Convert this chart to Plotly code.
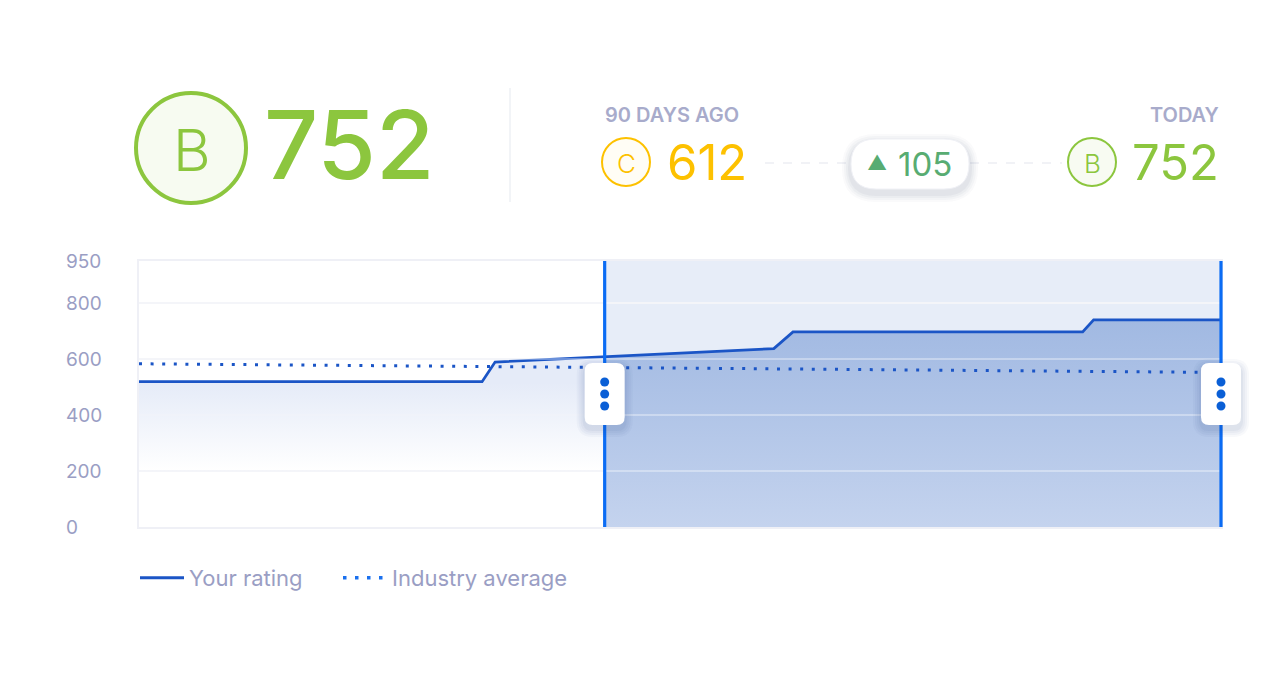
import numpy as np
import plotly.graph_objects as go

# ---------------- data ----------------
rating_days = [-158, -107.9, -106.0, -65.3, -62.5, -20.2, -18.6, 0]
rating_vals = [519, 519, 589, 637, 697, 697, 740, 740]

industry_days = [-158, -120, -90, -60, -30, 0]
industry_vals = [583, 575, 569, 563, 558, 552]

y_ticks = [0, 200, 400, 600, 800, 950]
y_tick_labels = ["0", "200", "400", "600", "800", "950"]

window_start, window_end = -90, 0

current_grade, current_score = "B", 752
past_grade, past_score = "C", 612
change_value = 105

# ---------------- layout geometry (reference pixels) ----------------
PAGE_OFF = 8                      # default body margin of the page
FIG_W, FIG_H = 1280 - PAGE_OFF, 690 - PAGE_OFF
L, R, T, B = 139, 1221, 261, 527
PW, PH = R - L, B - T
X_MIN, X_MAX = rating_days[0], window_end


def px(x):
    return (x - L) / PW


def py(y):
    return (B - y) / PH


def xdata_to_paper(v):
    return (v - X_MIN) / (X_MAX - X_MIN)


GREEN = "#8CC63E"
AMBER = "#FDC100"
UP_GREEN = "#58AC72"
LINE_BLUE = "#1B55C6"
BRIGHT_BLUE = "#0B6CF4"
MUTED = "#9A9EC4"
FONT = "Inter"

fig = go.Figure()

x_all = np.array(rating_days, dtype=float)
y_all = np.array(rating_vals, dtype=float)
y_at_start = float(np.interp(window_start, x_all, y_all))
left_mask = x_all < window_start
right_mask = x_all > window_start
left_x = list(x_all[left_mask]) + [window_start]
left_y = list(y_all[left_mask]) + [y_at_start]
right_x = [window_start] + list(x_all[right_mask])
right_y = [y_at_start] + list(y_all[right_mask])

fig.add_trace(go.Scatter(
    x=left_x, y=left_y, mode="lines", line=dict(width=0),
    fill="tozeroy",
    fillgradient=dict(type="vertical", start=0, stop=600,
                      colorscale=[[0, "rgba(229,235,248,0)"],
                                  [0.33, "rgba(229,235,248,0)"],
                                  [0.86, "rgba(229,235,248,1)"],
                                  [1, "rgba(229,235,248,1)"]]),
    showlegend=False, hoverinfo="skip"))

fig.add_trace(go.Scatter(
    x=right_x, y=right_y, mode="lines", line=dict(width=0),
    fill="tozeroy",
    fillgradient=dict(type="vertical", start=0, stop=740,
                      colorscale=[[0, "#C4D3EE"], [1, "#A1B9E2"]]),
    showlegend=False, hoverinfo="skip"))

fig.add_trace(go.Scatter(
    x=rating_days, y=rating_vals, mode="lines", name="Your rating",
    line=dict(color=LINE_BLUE, width=2.8), showlegend=False))

fig.add_trace(go.Scatter(
    x=industry_days, y=industry_vals, mode="lines", name="Industry average",
    line=dict(color=LINE_BLUE, width=3, dash="3px,8.6px"), showlegend=False))

# legend entries (styled like the reference legend), one legend each
fig.add_trace(go.Scatter(x=[None], y=[None], mode="lines", name="Your rating",
                         line=dict(color=LINE_BLUE, width=3), legend="legend"))
fig.add_trace(go.Scatter(x=[None], y=[None], mode="lines", name="Industry average",
                         line=dict(color="#1A70EE", width=3.5, dash="3.5px,8.5px"),
                         legend="legend2"))

shapes = []
shapes.append(dict(type="rect", xref="x", yref="y", x0=window_start, x1=window_end,
                   y0=0, y1=950, fillcolor="#E7EDF8", line=dict(width=0), layer="below"))
for v in y_ticks[1:-1]:
    shapes.append(dict(type="line", xref="paper", yref="y", x0=0, x1=1, y0=v, y1=v,
                       line=dict(color="rgba(255,255,255,0.35)", width=2), layer="above"))
for xv in (window_start, window_end):
    xp = xdata_to_paper(xv)
    shapes.append(dict(type="line", xref="paper", yref="paper", x0=xp, x1=xp, y0=0, y1=1,
                       line=dict(color=BRIGHT_BLUE, width=3.2), layer="above"))


def rrect(w, h, r, dy=0):
    x0, x1 = -w / 2, w / 2
    y0, y1 = -h / 2 + dy, h / 2 + dy
    return (f"M {x0 + r},{y0} L {x1 - r},{y0} Q {x1},{y0} {x1},{y0 + r} "
            f"L {x1},{y1 - r} Q {x1},{y1} {x1 - r},{y1} L {x0 + r},{y1} "
            f"Q {x0},{y1} {x0},{y1 - r} L {x0},{y0 + r} Q {x0},{y0} {x0 + r},{y0} Z")


for xv in (window_start, window_end):
    xp = xdata_to_paper(xv)
    for i, a in enumerate([0.03, 0.035, 0.04, 0.05]):
        g = 16 - i * 4
        shapes.append(dict(type="path", xref="paper", yref="paper", xsizemode="pixel",
                           ysizemode="pixel", xanchor=xp, yanchor=0.5,
                           path=rrect(40 + g, 62 + g, 8 + g / 2, dy=-4),
                           fillcolor=f"rgba(40,70,140,{a})", line=dict(width=0), layer="above"))
    shapes.append(dict(type="path", xref="paper", yref="paper", xsizemode="pixel",
                       ysizemode="pixel", xanchor=xp, yanchor=0.5,
                       path=rrect(40, 62, 8), fillcolor="white", line=dict(width=0),
                       layer="above"))
    for dy in (-12, 0, 12):
        shapes.append(dict(type="circle", xref="paper", yref="paper", xsizemode="pixel",
                           ysizemode="pixel", xanchor=xp, yanchor=0.5,
                           x0=-4.5, x1=4.5, y0=dy - 4.5, y1=dy + 4.5,
                           fillcolor="#0A5FD6", line=dict(width=0), layer="above"))


def circle(cx, cy, r, stroke, fill, width):
    return dict(type="circle", xref="paper", yref="paper",
                x0=px(cx - r), x1=px(cx + r), y0=py(cy + r), y1=py(cy - r),
                line=dict(color=stroke, width=width), fillcolor=fill, layer="above")


shapes.append(circle(191, 148, 55, GREEN, "#F7FBF1", 4))
shapes.append(dict(type="line", xref="paper", yref="paper", x0=px(510), x1=px(510),
                   y0=py(88), y1=py(202), line=dict(color="#EEF0F5", width=1.5)))
shapes.append(circle(626, 162, 24, AMBER, "#FFFDF5", 2))
shapes.append(circle(1092, 162, 24, GREEN, "#F8FBF2", 2))
for x0, x1 in ((765, 850), (970, 1062)):
    shapes.append(dict(type="line", xref="paper", yref="paper", x0=px(x0), x1=px(x1),
                       y0=py(163), y1=py(163),
                       line=dict(color="#E3E5ED", width=1.2, dash="dash")))
for i, a in enumerate([0.025, 0.03, 0.035, 0.045]):
    g = 18 - i * 4
    shapes.append(dict(type="path", xref="paper", yref="paper", xsizemode="pixel",
                       ysizemode="pixel", xanchor=px(910), yanchor=py(164),
                       path=rrect(118 + g, 50 + g, 25 + g / 2, dy=-4),
                       fillcolor=f"rgba(40,50,90,{a})", line=dict(width=0)))
shapes.append(dict(type="path", xref="paper", yref="paper", xsizemode="pixel",
                   ysizemode="pixel", xanchor=px(910), yanchor=py(164),
                   path=rrect(118, 50, 25), fillcolor="white",
                   line=dict(color="#F0F1F6", width=1)))

annotations = []


def ann(text, x, y, size, color, xanchor="center", weight=400, yanchor="middle"):
    annotations.append(dict(text=text, x=px(x), y=py(y), xref="paper", yref="paper",
                            showarrow=False, xanchor=xanchor, yanchor=yanchor,
                            font=dict(family=FONT, size=size, color=color, weight=weight)))


ann(current_grade, 192, 150, 58, GREEN, weight=300)
ann(str(current_score), 262, 145, 95, GREEN, xanchor="left", weight=500)
ann("90 DAYS AGO", 603, 115, 20, "#A8ABCB", xanchor="left", weight=600)
ann("TODAY", 1221, 115, 20, "#A8ABCB", xanchor="right", weight=600)
ann(past_grade, 626, 163, 26, AMBER, weight=300)
ann(str(past_score), 665, 162, 49, AMBER, xanchor="left", weight=400)
ann("▲", 877, 163, 20, UP_GREEN)
ann(str(change_value), 896, 164, 33, UP_GREEN, xanchor="left", weight=400)
ann(current_grade, 1092, 163, 26, GREEN, weight=300)
ann(str(current_score), 1221, 162, 49, GREEN, xanchor="right", weight=400)

for v, lab in zip(y_ticks, y_tick_labels):
    annotations.append(dict(text=lab, x=px(64), y=v, xref="paper", yref="y",
                            showarrow=False, xanchor="left", yanchor="middle",
                            font=dict(family=FONT, size=19, color=MUTED)))

legend_common = dict(orientation="h", xanchor="left", y=py(578), yanchor="middle",
                     font=dict(family=FONT, size=22, color=MUTED), itemwidth=44,
                     bgcolor="rgba(0,0,0,0)")

fig.update_layout(
    width=FIG_W, height=FIG_H,
    margin=dict(l=L - PAGE_OFF, r=FIG_W - (R - PAGE_OFF), t=T - PAGE_OFF,
                b=FIG_H - (B - PAGE_OFF)),
    paper_bgcolor="white", plot_bgcolor="white",
    font=dict(family=FONT, color=MUTED),
    showlegend=True,
    legend=dict(x=px(135), **legend_common),
    legend2=dict(x=px(338), **legend_common),
    xaxis=dict(range=[X_MIN, X_MAX], showgrid=False, zeroline=False,
               showticklabels=False, showline=True, mirror=True, linecolor="#EFF0F6",
               linewidth=2, fixedrange=True),
    yaxis=dict(range=[0, 950], tickvals=y_ticks[1:-1], showticklabels=False,
               gridcolor="#EEF0F6", gridwidth=1.5, zeroline=False,
               showline=True, mirror=True, linecolor="#EFF0F6", linewidth=2,
               fixedrange=True),
    shapes=shapes, annotations=annotations,
    hovermode=False,
)

fig.write_html("out.html", config={"displayModeBar": False})
